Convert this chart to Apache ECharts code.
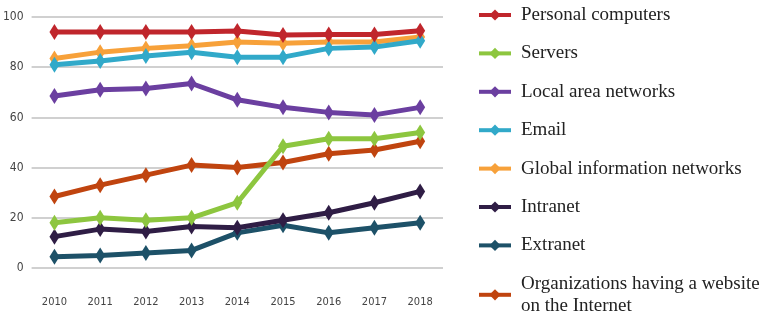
<!DOCTYPE html>
<html>
<head>
<meta charset="utf-8">
<script src="https://cdn.jsdelivr.net/npm/echarts@6/dist/echarts.min.js"></script>
<style>
  html, body { margin: 0; padding: 0; background: #fff; }
  #chart { width: 766px; height: 320px; }
</style>
</head>
<body>
<div id="chart"></div>
<script>
// 年份
const years = ['2010', '2011', '2012', '2013', '2014', '2015', '2016', '2017', '2018'];
// y轴刻度
const yTicks = [0, 20, 40, 60, 80, 100];

// 各系列数据
const personalComputers = [94, 94, 94, 94, 94.4, 92.8, 93, 93, 94.5];
const servers = [18, 20, 19, 20, 26, 48.5, 51.5, 51.5, 54];
const localAreaNetworks = [68.5, 71, 71.5, 73.5, 67, 64, 62, 61, 64];
const email = [81, 82.5, 84.5, 86, 84, 84, 87.5, 88, 90.5];
const globalNetworks = [83.5, 86, 87.5, 88.5, 90, 89.5, 90, 90, 92];
const intranet = [12.5, 15.5, 14.5, 16.5, 16, 19, 22, 26, 30.5];
const extranet = [4.5, 5, 6, 7, 14, 17, 14, 16, 18];
const websites = [28.5, 33, 37, 41, 40, 42, 45.5, 47, 50.5];

const seriesNames = [
  'Personal computers',
  'Servers',
  'Local area networks',
  'Email',
  'Global information networks',
  'Intranet',
  'Extranet',
  'Organizations having a website on the Internet'
];
const seriesData = [personalComputers, servers, localAreaNetworks, email, globalNetworks, intranet, extranet, websites];
const colors = ['#c0262c', '#8dc63f', '#6b3fa0', '#31a9c9', '#f7a13a', '#2f1d45', '#1d5168', '#c0440f'];

const chart = echarts.init(document.getElementById('chart'));

const series = seriesNames.map((name, i) => ({
  name: name,
  type: 'line',
  data: seriesData[i],
  symbol: 'diamond',
  symbolSize: [10, 16],
  lineStyle: { width: 5, color: colors[i] },
  itemStyle: { color: colors[i] },
  z: 10 - i
}));

chart.setOption({
  animation: false,
  color: colors,
  grid: { left: 29, right: 323, top: 17, bottom: 52 },
  legend: {
    type: 'plain',
    orient: 'vertical',
    left: 477,
    top: 4,
    height: 600,
    padding: 0,
    itemWidth: 32,
    itemHeight: 14,
    itemGap: 16.4,
    data: seriesNames,
    lineStyle: { width: 4 },
    formatter: (name) => name === seriesNames[7] ? 'Organizations having a website\non the Internet' : name,
    textStyle: {
      fontFamily: '"Liberation Serif", "DejaVu Serif", serif',
      fontSize: 19,
      lineHeight: 22,
      color: '#222',
      padding: [0, 0, 0, 5]
    }
  },
  xAxis: {
    type: 'category',
    data: years,
    boundaryGap: true,
    axisLine: { show: false },
    axisTick: { show: false },
    axisLabel: {
      margin: 29,
      fontFamily: '"DejaVu Sans Condensed", "Liberation Sans Narrow", sans-serif',
      fontSize: 11,
      color: '#444'
    }
  },
  yAxis: {
    type: 'value',
    min: yTicks[0],
    max: yTicks[yTicks.length - 1],
    interval: 20,
    axisLine: { show: false },
    axisTick: { show: false },
    splitLine: { lineStyle: { color: '#d0d0d0', width: 2 } },
    axisLabel: {
      margin: 8,
      fontFamily: '"DejaVu Sans Condensed", "Liberation Sans Narrow", sans-serif',
      fontSize: 12,
      color: '#444'
    }
  },
  series: series
});
</script>
</body>
</html>
